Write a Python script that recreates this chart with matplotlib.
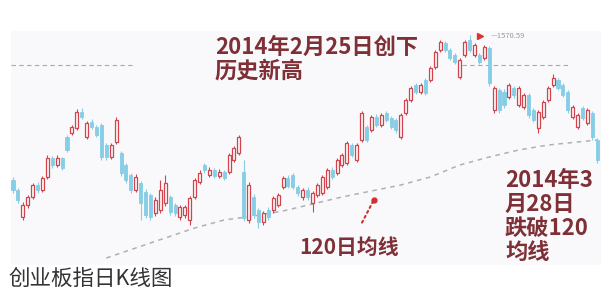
import numpy as np
import matplotlib.pyplot as plt

plt.rcParams['font.family'] = ['Noto Sans CJK SC', 'DejaVu Sans']

# daily OHLC of the ChiNext index
opens = [1208, 1183, 1115, 1145, 1165, 1195, 1183, 1215, 1263, 1245,
         1263, 1315, 1325, 1338, 1378, 1315, 1353, 1340, 1345, 1295,
         1265, 1303, 1275, 1245, 1220, 1183, 1200, 1178, 1170, 1125,
         1133, 1150, 1165, 1145, 1115, 1120, 1108, 1165, 1203, 1245,
         1220, 1233, 1218, 1228, 1228, 1258, 1275, 1228, 1108, 1165,
         1133, 1103, 1133, 1133, 1145, 1190, 1213, 1220, 1190, 1165,
         1183, 1150, 1170, 1175, 1190, 1233, 1225, 1245, 1250, 1295,
         1258, 1308, 1340, 1333, 1365, 1345, 1375, 1363, 1358, 1315,
         1375, 1408, 1445, 1428, 1458, 1458, 1490, 1533, 1550, 1533,
         1520, 1465, 1520, 1558, 1520, 1520, 1513, 1538, 1383, 1433,
         1428, 1415, 1438, 1395, 1390, 1420, 1383, 1338, 1365, 1408,
         1445, 1458, 1445, 1428, 1365, 1340, 1388, 1350, 1375, 1308]
closes = [1183, 1158, 1145, 1165, 1195, 1183, 1213, 1263, 1245, 1263,
          1238, 1283, 1340, 1378, 1365, 1350, 1340, 1320, 1265, 1265,
          1295, 1358, 1225, 1208, 1183, 1215, 1150, 1120, 1115, 1158,
          1183, 1200, 1128, 1125, 1140, 1140, 1163, 1208, 1225, 1233,
          1233, 1218, 1228, 1213, 1270, 1288, 1315, 1113, 1195, 1120,
          1103, 1125, 1115, 1163, 1170, 1213, 1193, 1190, 1175, 1183,
          1165, 1175, 1195, 1215, 1233, 1215, 1258, 1270, 1300, 1270,
          1295, 1375, 1308, 1365, 1345, 1370, 1358, 1340, 1333, 1370,
          1408, 1438, 1428, 1445, 1425, 1488, 1528, 1553, 1533, 1513,
          1503, 1508, 1553, 1533, 1545, 1503, 1540, 1450, 1438, 1383,
          1395, 1445, 1420, 1438, 1420, 1370, 1358, 1378, 1403, 1438,
          1463, 1438, 1420, 1383, 1390, 1370, 1363, 1383, 1315, 1258]
highs = [1215, 1188, 1152, 1170, 1200, 1203, 1218, 1270, 1268, 1270,
         1266, 1320, 1346, 1385, 1388, 1356, 1360, 1345, 1350, 1300,
         1300, 1365, 1280, 1250, 1225, 1222, 1206, 1185, 1176, 1165,
         1208, 1220, 1170, 1150, 1146, 1146, 1168, 1213, 1232, 1250,
         1240, 1238, 1236, 1233, 1276, 1293, 1320, 1258, 1202, 1172,
         1138, 1130, 1140, 1168, 1176, 1218, 1220, 1226, 1195, 1188,
         1190, 1180, 1200, 1220, 1238, 1240, 1263, 1275, 1306, 1300,
         1300, 1380, 1346, 1370, 1372, 1376, 1380, 1368, 1363, 1375,
         1413, 1443, 1450, 1450, 1462, 1493, 1533, 1558, 1556, 1538,
         1525, 1513, 1558, 1570.59, 1550, 1525, 1546, 1543, 1443, 1438,
         1435, 1450, 1443, 1443, 1425, 1426, 1388, 1383, 1408, 1443,
         1472, 1463, 1450, 1433, 1395, 1375, 1393, 1388, 1380, 1313]
lows = [1175, 1150, 1108, 1138, 1160, 1176, 1178, 1210, 1238, 1240,
        1232, 1278, 1320, 1333, 1360, 1310, 1335, 1315, 1258, 1258,
        1260, 1298, 1218, 1200, 1176, 1178, 1108, 1112, 1108, 1118,
        1126, 1143, 1120, 1118, 1108, 1113, 1095, 1160, 1198, 1226,
        1215, 1212, 1213, 1207, 1222, 1252, 1270, 1106, 1100, 1113,
        1088, 1096, 1108, 1126, 1140, 1185, 1188, 1185, 1168, 1158,
        1158, 1128, 1165, 1170, 1185, 1210, 1220, 1240, 1245, 1265,
        1252, 1302, 1302, 1328, 1340, 1340, 1352, 1335, 1326, 1310,
        1370, 1402, 1422, 1422, 1420, 1452, 1485, 1528, 1527, 1507,
        1497, 1460, 1515, 1527, 1514, 1497, 1508, 1443, 1375, 1375,
        1388, 1410, 1413, 1390, 1385, 1363, 1352, 1325, 1360, 1402,
        1440, 1432, 1414, 1376, 1360, 1335, 1357, 1345, 1308, 1250]

# 120-day moving average, sampled along the dashed line
ma_days = [19, 25, 31, 37, 43, 49, 55, 61, 67, 73, 79, 85, 91, 97, 103, 109, 115, 119]
ma120 = [1012.5, 1037.5, 1062.5, 1087.5, 1107.5, 1117.5, 1130, 1147.5, 1165,
         1180, 1195, 1215, 1245, 1265, 1282.5, 1295, 1302.5, 1307.5]

peak_day, peak_value = 93, 1570.59
break_day = 73.5
grid_level = 1495

up_col = '#d2434b'
down_col = '#86cde6'
bg = '#f9f9fb'
txt_col = '#7e3036'

fig = plt.figure(figsize=(6.03, 2.91), dpi=100)
ax = fig.add_axes([11 / 603, 26 / 291, 590 / 603, 234 / 291])
ax.set_facecolor(bg)

days = np.arange(len(opens))
o = np.array(opens, dtype=float)
c = np.array(closes, dtype=float)
up = c >= o
colors = np.where(up, up_col, down_col)

# faint grid segments
ax.hlines(grid_level, -0.4, 24.5, colors='#aaaaaa', linestyles=(0, (4, 3)), lw=0.8)
ax.hlines(grid_level, 91.5, 113, colors='#aaaaaa', linestyles=(0, (4, 3)), lw=0.8)

# MA line
ax.plot(ma_days, ma120, color='#b0b0b0', lw=1.1, ls=(0, (3, 3)), zorder=1)

# wicks + bodies
ax.vlines(days, lows, highs, colors=colors, lw=0.8, zorder=2)
ax.bar(days[up], (c - o)[up], bottom=o[up], width=0.62,
       facecolor=bg, edgecolor=up_col, lw=0.9, zorder=3)
ax.bar(days[~up], (c - o)[~up], bottom=o[~up], width=0.62,
       facecolor=down_col, edgecolor=down_col, lw=0.6, zorder=3)

# highest-point marker
ax.plot(peak_day + 2.2, peak_value - 2, marker='>', color='#e03030', ms=5, zorder=4)
ax.text(peak_day + 4.2, peak_value - 2, '—1570.59', fontsize=5.5, color='#9a9a9a',
        va='center', ha='left')

# annotations
ax.text(41.1, 1568, '2014年2月25日创下\n历史新高', fontsize=16, fontweight='bold',
        color=txt_col, va='top', ha='left', linespacing=1.05)
ax.text(100.2, 1234, '2014年3\n月28日\n跌破120\n均线', fontsize=16, fontweight='bold',
        color=txt_col, va='top', ha='left', linespacing=1.05)
ax.annotate('120日均线', xy=(break_day, 1158), xytext=(68.5, 1040),
            fontsize=15, fontweight='bold', color=txt_col, ha='center', va='center',
            arrowprops=dict(arrowstyle='-', color='#d03030', ls=':', lw=1.5,
                            shrinkA=9, shrinkB=0))
ax.plot(break_day, 1158, 'o', color='#d03030', ms=3.5, zorder=5)

ax.set_xlim(-0.41, 119.76)
ax.set_ylim(995, 1580)
ax.set_xticks([])
ax.set_yticks([])
for s in ax.spines.values():
    s.set_visible(False)

fig.text(8 / 603, 1 - 279 / 291, '创业板指日K线图', fontsize=15.5, color='#333333',
         va='center', ha='left')

fig.savefig('out.png', dpi=100)
